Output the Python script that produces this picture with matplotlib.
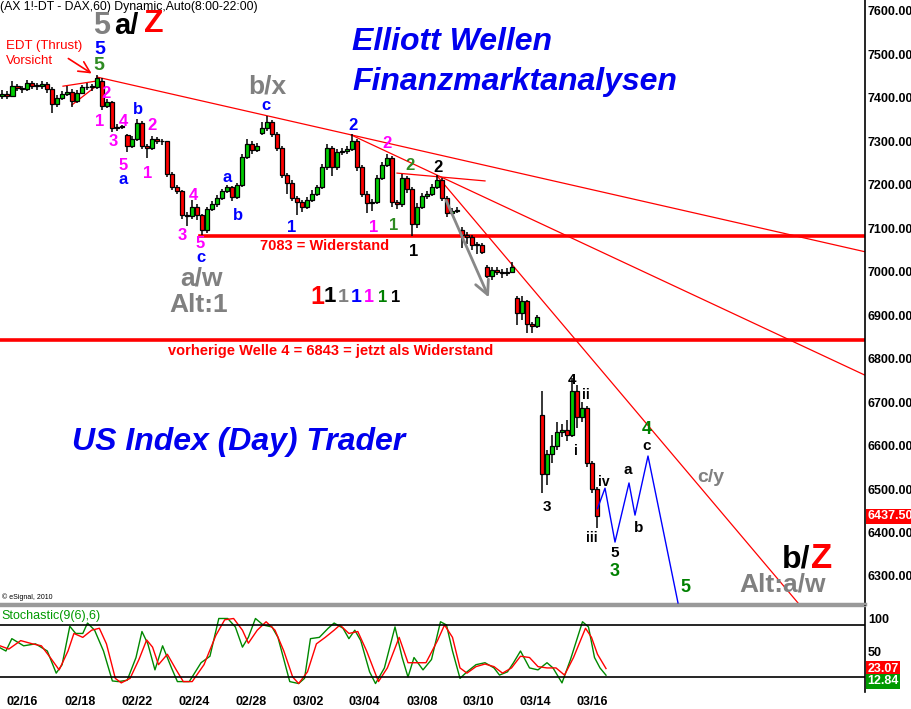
import matplotlib
matplotlib.use('Agg')
import matplotlib.pyplot as plt
import matplotlib.transforms as mtransforms
import numpy as np

plt.rcParams['font.family'] = ['Liberation Sans', 'DejaVu Sans']

# ---------------- data (hourly DAX bars) ----------------
closes = [7410, 7405, 7428, 7422, 7420, 7435, 7428, 7427, 7433, 7420,
          7385, 7400, 7410, 7414, 7392, 7412, 7424, 7426, 7425, 7445,
          7382, 7390, 7330, 7334, 7333, 7290, 7305, 7343, 7290, 7285,
          7305, 7302, 7300, 7225, 7195, 7185, 7130, 7128, 7150, 7130,
          7095, 7145, 7155, 7170, 7185, 7195, 7172, 7200, 7265, 7295,
          7280, 7290, 7330, 7345, 7318, 7285, 7222, 7205, 7170, 7160,
          7150, 7165, 7180, 7195, 7240, 7285, 7240, 7275, 7278, 7282,
          7300, 7240, 7180, 7158, 7160, 7215, 7245, 7262, 7160, 7155,
          7215, 7190, 7110, 7150, 7175, 7180, 7195, 7212, 7170, 7135,
          7140, 7142, 7085, 7080, 7062, 7062, 7046, 6990, 7003, 7000,
          6998, 7000, 7012, 6905, 6932, 6880, 6875, 6895, 6535, 6580,
          6600, 6632, 6635, 6625, 6725, 6665, 6686, 6560, 6500, 6437.5]
highs = [7418, 7415, 7438, 7432, 7428, 7442, 7440, 7434, 7440, 7436,
         7424, 7406, 7416, 7428, 7420, 7418, 7430, 7434, 7432, 7452,
         7446, 7398, 7394, 7340, 7338, 7318, 7312, 7352, 7346, 7295,
         7312, 7310, 7306, 7302, 7230, 7200, 7188, 7138, 7165, 7155,
         7134, 7150, 7162, 7176, 7190, 7200, 7198, 7205, 7270, 7305,
         7300, 7296, 7345, 7358, 7350, 7322, 7290, 7228, 7210, 7175,
         7165, 7172, 7188, 7200, 7248, 7295, 7290, 7282, 7285, 7290,
         7318, 7305, 7245, 7185, 7168, 7222, 7252, 7272, 7266, 7165,
         7225, 7220, 7194, 7158, 7182, 7186, 7202, 7222, 7216, 7175,
         7146, 7148, 7102, 7092, 7085, 7068, 7066, 7015, 7010, 7012,
         7006, 7008, 7022, 6945, 6945, 6936, 6885, 6900, 6725, 6590,
         6625, 6655, 6650, 6660, 6755, 6740, 6700, 6690, 6565, 6505]
lows = [7398, 7398, 7402, 7415, 7412, 7416, 7420, 7418, 7420, 7412,
        7365, 7378, 7395, 7405, 7378, 7388, 7408, 7418, 7416, 7420,
        7372, 7376, 7322, 7324, 7328, 7275, 7285, 7300, 7282, 7262,
        7280, 7295, 7292, 7218, 7188, 7178, 7122, 7105, 7122, 7118,
        7084, 7090, 7140, 7150, 7165, 7182, 7162, 7168, 7195, 7260,
        7272, 7276, 7315, 7325, 7310, 7278, 7215, 7180, 7162, 7130,
        7138, 7145, 7160, 7175, 7190, 7235, 7220, 7235, 7268, 7270,
        7278, 7232, 7172, 7135, 7140, 7155, 7210, 7240, 7150, 7145,
        7150, 7182, 7082, 7100, 7145, 7168, 7175, 7190, 7162, 7125,
        7130, 7135, 7055, 7065, 7050, 7040, 7040, 6985, 6980, 6992,
        6985, 6990, 6996, 6878, 6890, 6860, 6858, 6870, 6490, 6510,
        6560, 6590, 6620, 6610, 6620, 6640, 6655, 6550, 6490, 6410]
# opens equal the previous close except at gaps
open_overrides = {0: 7405, 20: 7440, 25: 7315, 52: 7320, 92: 7095,
                  97: 7012, 103: 6940, 108: 6670}

date_pos = [4.4, 16, 27.4, 38.8, 50.2, 61.6, 72.8, 84.4, 95.6, 107, 118.4]
date_labels = ['02/16', '02/18', '02/22', '02/24', '02/28', '03/02',
               '03/04', '03/08', '03/10', '03/14', '03/16']
price_ticks = [7600, 7500, 7400, 7300, 7200, 7100, 7000, 6900, 6800,
               6700, 6600, 6500, 6400, 6300]

stoch_k_x = [0, 1.18, 2.37, 4.73, 7.1, 9.46, 11.24, 12.42, 13.96, 15.14,
             16.56, 17.5, 18.92, 20.7, 22.47, 23.65, 25.43, 27.2, 28.39, 29.57,
             30.99, 32.52, 34.3, 35.48, 37.85, 40.21, 41.99, 43.76, 45.54, 47.07,
             48.49, 49.67, 51.09, 52.63, 54.4, 55.59, 57.95, 59.73, 60.91, 62.09,
             63.87, 65.64, 66.82, 68.6, 69.78, 70.96, 72.15, 73.92, 75.1, 76.88,
             79.0, 80.43, 81.6, 82.8, 84.6, 86.3, 88.1, 89.3, 90.5, 92.0,
             93.4, 95.2, 97.0, 98.8, 99.9, 101.5, 102.7, 104.1, 105.9, 107.6,
             109.4, 110.6, 112.4, 114.1, 115.3, 116.5, 117.7, 118.9, 120.0, 121.2]
stoch_k = [55, 50, 69, 58, 61, 50, 16, 29, 88, 77,
           77, 93, 82, 50, 4, 3, 5, 40, 80, 61,
           21, 58, 24, 3, 3, 32, 42, 100, 100, 87,
           56, 71, 100, 90, 87, 71, 3, 0, 8, 69,
           71, 85, 93, 85, 69, 82, 66, 18, 0, 24,
           87, 40, 10, 40, 21, 37, 95, 90, 50, 8,
           18, 29, 32, 24, 13, 18, 32, 50, 24, 21,
           32, 24, 1, 37, 66, 95, 87, 40, 24, 12.84]
stoch_d_x = [0, 1.77, 4.14, 6.5, 8.28, 10.05, 11.83, 13.6, 14.78, 16.56,
             18.33, 19.87, 21.29, 23.06, 24.25, 26.02, 27.79, 29.33, 30.51, 31.7,
             33.47, 35.25, 36.66, 38.44, 40.8, 43.17, 44.94, 46.72, 48.49, 49.67,
             51.45, 53.22, 55.0, 56.77, 58.54, 59.73, 61.5, 63.28, 65.05, 66.82,
             68.0, 69.78, 71.56, 73.33, 75.69, 77.47, 79.83, 81.6, 83.4, 85.2,
             87.5, 88.9, 90.5, 92.0, 93.4, 95.2, 97.0, 98.8, 100.5, 102.3,
             104.1, 105.9, 107.6, 109.4, 111.2, 112.9, 114.7, 117.1, 118.3, 119.5, 121.2]
stoch_d = [58, 53, 66, 61, 58, 40, 21, 50, 77, 71,
           82, 85, 61, 8, 1, 8, 37, 67, 56, 29,
           45, 21, 3, 3, 29, 74, 98, 100, 82, 62,
           82, 95, 82, 50, 10, 0, 18, 61, 71, 82,
           90, 77, 80, 50, 3, 24, 71, 32, 32, 32,
           66, 90, 71, 24, 16, 26, 30, 26, 16, 24,
           42, 40, 26, 24, 24, 13, 40, 85, 71, 45, 23.07]

# projection path (blue) and analysis lines
proj_x = [119.5, 121, 123, 125.8, 127, 129.6, 135.6]
proj_y = [6455, 6502, 6378, 6514, 6440, 6576, 6238]
trend_lines = [((19.4, 7448), (173, 7046)),
               ((70.2, 7315), (173, 6762)),
               ((87.6, 7218), (159.6, 6238)),
               ((79.4, 7227), (97, 7209)),
               ((12.6, 7427), (19.4, 7439)),
               ((14.4, 7384), (20, 7434))]
levels = [(40, 7083), (0, 6843)]

# ---------------- figure ----------------
W, H = 912, 709
fig = plt.figure(figsize=(W / 100, H / 100), dpi=100)
fig.patch.set_facecolor('white')
ax = fig.add_axes([0, 1 - 604 / H, 865 / W, 604 / H])
axs = fig.add_axes([0, 1 - 692 / H, 865 / W, 86 / H])
PX = mtransforms.Affine2D().scale(1 / W, -1 / H).translate(0, 1) + fig.transFigure

XMAX = 173
ax.set_xlim(0, XMAX)
ax.set_ylim(6235.5, 7625.3)
axs.set_xlim(0, XMAX)
axs.set_ylim(-13, 119.2)

# candles
n = len(closes)
c = np.array(closes, float)
o = np.array([open_overrides.get(i, closes[i - 1] if i > 0 else closes[0]) for i in range(n)], float)
hi = np.array(highs, float)
lo = np.array(lows, float)
xs = np.arange(n) + 0.5
ax.vlines(xs, lo, hi, color='black', lw=1.1, zorder=3)
bottoms = np.minimum(o, c)
heights = np.maximum(np.abs(c - o), 2.0)
cols = ['#00CC00' if cc >= oo else '#FF0000' for oo, cc in zip(o, c)]
ax.bar(xs, heights, width=0.8, bottom=bottoms, color=cols, edgecolor='black',
       linewidth=0.9, zorder=4)

# lines
for (x0, y0), (x1, y1) in trend_lines:
    ax.plot([x0, x1], [y0, y1], color='#FF0000', lw=0.9, zorder=2)
for x0, lv in levels:
    ax.plot([x0, XMAX], [lv, lv], color='#FF0000', lw=2.6, zorder=2)
ax.plot(proj_x, proj_y, color='#0000FF', lw=1.0, zorder=5)
ax.annotate('', xy=(98, 6935), xytext=(89, 7170),
            arrowprops=dict(arrowstyle='->,head_length=1.0,head_width=0.5',
                            color='#888888', lw=2), zorder=5)

# axes styling main
for s in ['top', 'left']:
    ax.spines[s].set_visible(False)
ax.spines['bottom'].set_color('#999999')
ax.spines['bottom'].set_linewidth(2.5)
ax.spines['right'].set_color('black')
ax.spines['right'].set_linewidth(1.2)
ax.set_xticks([])
ax.yaxis.tick_right()
ax.set_yticks(price_ticks)
ax.set_yticklabels([f'{v:.2f}' for v in price_ticks], fontsize=9, fontweight='bold')
ax.tick_params(axis='y', length=0, pad=2)

# stochastic
axs.plot(stoch_k_x, stoch_k, color='#008800', lw=1.0)
axs.plot(stoch_d_x, stoch_d, color='#FF0000', lw=1.0)
axs.axhline(90, color='black', lw=1.2)
axs.axhline(10, color='black', lw=1.2)
for s in ['left', 'bottom']:
    axs.spines[s].set_visible(False)
axs.spines['top'].set_color('#999999')
axs.spines['top'].set_linewidth(1.0)
axs.spines['right'].set_linewidth(1.2)
axs.yaxis.tick_right()
axs.set_yticks([100, 50])
axs.set_yticklabels(['100', '50'], fontsize=9, fontweight='bold')
axs.tick_params(axis='y', length=0, pad=2)
axs.set_xticks(date_pos)
axs.set_xticklabels(date_labels, fontsize=9, fontweight='bold')
axs.tick_params(axis='x', length=0, pad=3)

blend = mtransforms.blended_transform_factory(ax.transAxes, ax.transData)
ax.text(1.003, closes[-1], f'{closes[-1]:.2f}', transform=blend, ha='left', va='center',
        fontsize=9, fontweight='bold', color='white',
        bbox=dict(facecolor='#FF0000', edgecolor='none', pad=1.2), clip_on=False)
blend2 = mtransforms.blended_transform_factory(axs.transAxes, axs.transData)
axs.text(1.003, stoch_d[-1], f'{stoch_d[-1]:.2f}', transform=blend2, ha='left', va='center',
         fontsize=9, fontweight='bold', color='white',
         bbox=dict(facecolor='#FF0000', edgecolor='none', pad=1.0), clip_on=False)
axs.text(1.003, 3.5, f'{stoch_k[-1]:.2f}', transform=blend2, ha='left', va='center',
         fontsize=9, fontweight='bold', color='white',
         bbox=dict(facecolor='#009900', edgecolor='none', pad=1.0), clip_on=False)

# ---------------- texts ----------------
PINK, BLUE, GRAY, GREEN, DGREEN, BLK, RED = '#FF00FF', '#0000FF', '#808080', '#008000', '#2E8B22', 'black', '#FF0000'

def T(s, x, y, color=BLK, size=12, bold=True, italic=False, ha='center'):
    fig.text(x, y, s, transform=PX, color=color, fontsize=size,
             fontweight='bold' if bold else 'normal',
             fontstyle='italic' if italic else 'normal', ha=ha, va='center')

T('(AX 1!-DT - DAX,60) Dynamic,Auto(8:00-22:00)', 0, 7, BLK, 8.8, bold=False, ha='left')
T('5', 102, 26, GRAY, 22)
T('a/', 126, 26, BLK, 21)
T('Z', 154, 24, RED, 23)
T('5', 100, 49, BLUE, 14)
T('5', 99, 66, DGREEN, 14)
T('EDT (Thrust)', 6, 46, RED, 9.5, bold=False, ha='left')
T('Vorsicht', 6, 61, RED, 9.5, bold=False, ha='left')
ax.annotate('', xy=(94, 75), xytext=(66, 57), xycoords=PX, textcoords=PX,
            arrowprops=dict(arrowstyle='->,head_length=0.8,head_width=0.4', color=RED, lw=1.2))

T('Elliott Wellen', 352, 42, '#0000EE', 23, italic=True, ha='left')
T('Finanzmarktanalysen', 352, 82, '#0000EE', 23, italic=True, ha='left')
T('US Index (Day) Trader', 72, 442, '#0000EE', 23, italic=True, ha='left')

T('b/x', 267, 86, GRAY, 19)
T('c', 266, 105, BLUE, 12)
for s, x, y, col in [('2', 106, 94, PINK), ('1', 100, 122, PINK), ('4', 123, 122, PINK),
                     ('3', 113, 142, PINK), ('5', 123, 166, PINK), ('a', 123, 180, BLUE),
                     ('b', 138, 110, BLUE), ('2', 152, 125, PINK), ('1', 148, 173, PINK),
                     ('4', 193, 195, PINK), ('3', 182, 236, PINK), ('5', 200, 244, PINK),
                     ('c', 201, 258, BLUE), ('a', 227, 177, BLUE), ('b', 238, 216, BLUE),
                     ('1', 292, 227, BLUE), ('2', 353, 125, BLUE), ('2', 387, 144, PINK),
                     ('1', 374, 227, PINK), ('1', 394, 225, DGREEN), ('2', 410, 166, DGREEN),
                     ('2', 438, 168, BLK), ('1', 414, 251, BLK)]:
    T(s, x, y, col, 12)
T('a/w', 202, 279, GRAY, 19)
T('Alt:1', 199, 305, GRAY, 19)
T('7083 = Widerstand', 260, 246, RED, 10.5, ha='left')
T('vorherige Welle 4 = 6843 = jetzt als Widerstand', 168, 351, RED, 10.5, ha='left')
for s, x, col, sz in [('1', 317, RED, 18), ('1', 330, BLK, 16), ('1', 343, GRAY, 14),
                      ('1', 356, BLUE, 14), ('1', 369, PINK, 13), ('1', 383, GREEN, 12),
                      ('1', 396, BLK, 12)]:
    T(s, x, 297, col, sz)

for s, x, y, col, sz in [('4', 572, 380, BLK, 11), ('ii', 586, 395, BLK, 10), ('i', 576, 451, BLK, 10),
                         ('3', 547, 507, BLK, 11), ('iii', 592, 538, BLK, 10), ('iv', 604, 482, BLK, 10),
                         ('5', 615, 553, BLK, 11), ('3', 615, 572, GREEN, 13), ('a', 628, 470, BLK, 11),
                         ('b', 639, 528, BLK, 11), ('c', 647, 446, BLK, 11), ('4', 647, 430, GREEN, 13),
                         ('5', 685, 588, GREEN, 13)]:
    T(s, x, y, col, sz)
T('c/y', 711, 478, GRAY, 14)
T('b/', 796, 560, BLK, 23)
T('Z', 822, 558, RED, 25)
T('Alt:a/w', 783, 585, GRAY, 19)
T('\u00a9 eSignal, 2010', 2, 597, BLK, 5, bold=False, ha='left')
T('Stochastic(9(6),6)', 1, 616, '#009900', 9, bold=False, ha='left')

fig.savefig('out.png', dpi=100, facecolor='white')
